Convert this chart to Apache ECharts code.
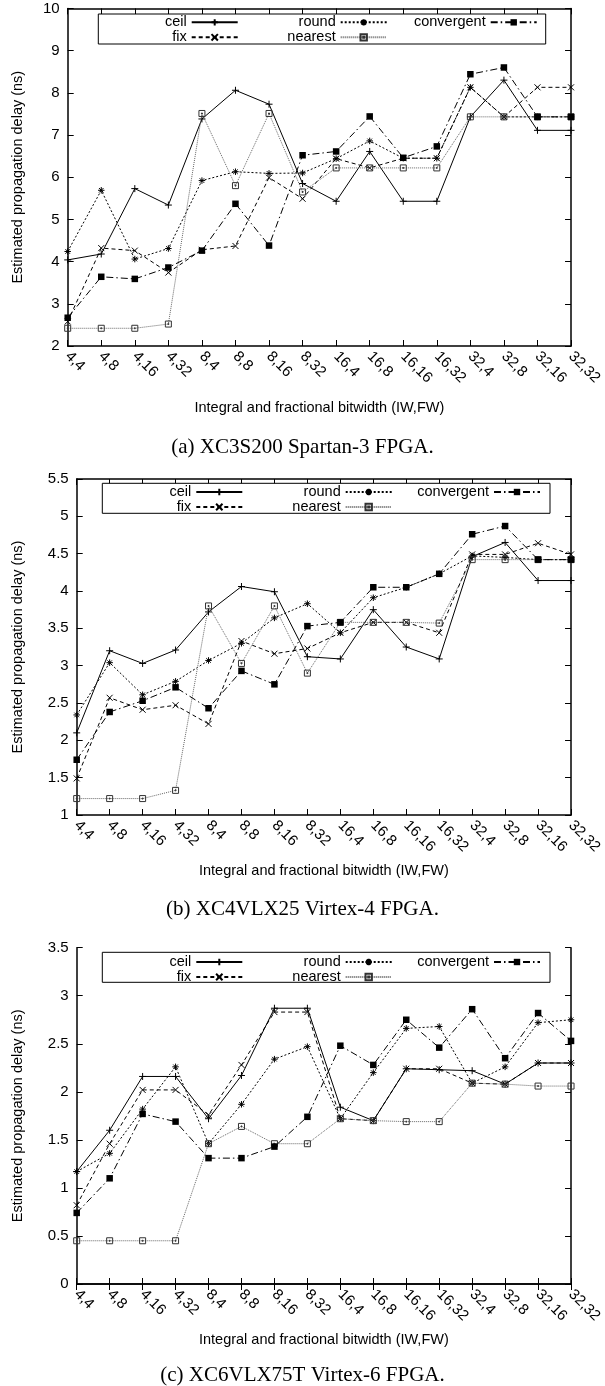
<!DOCTYPE html>
<html><head><meta charset="utf-8">
<script src="https://cdn.jsdelivr.net/npm/echarts@6/dist/echarts.min.js"></script>
<style>html,body{margin:0;padding:0;background:#fff;}#c{width:605px;height:1386px;}</style>
</head><body><div id="c"></div>
<script>
// ---------- data ----------
const categories = ['4,4','4,8','4,16','4,32','8,4','8,8','8,16','8,32','16,4','16,8','16,16','16,32','32,4','32,8','32,16','32,32'];
const seriesNames = ['ceil','fix','round','nearest','convergent'];

// (a) XC3S200 Spartan-3
const ceilA       = [4.04,4.18,5.73,5.34,7.38,8.06,7.73,5.85,5.43,6.61,5.43,5.43,7.43,8.30,7.11,7.11];
const fixA        = [2.58,4.32,4.26,3.74,4.28,4.37,5.99,5.49,6.44,6.22,6.45,6.45,8.13,7.43,8.13,8.13];
const roundA      = [4.24,5.69,4.06,4.31,5.92,6.13,6.09,6.10,6.44,6.86,6.45,6.45,8.13,7.43,7.43,7.43];
const nearestA    = [2.42,2.42,2.42,2.52,7.51,5.80,7.51,5.65,6.22,6.22,6.22,6.22,7.43,7.43,7.43,7.43];
const convergentA = [2.67,3.64,3.59,3.86,4.26,5.37,4.38,6.52,6.61,7.44,6.46,6.73,8.44,8.60,7.43,7.43];

// (b) XC4VLX25 Virtex-4
const ceilB       = [2.10,3.20,3.03,3.21,3.72,4.06,3.99,3.12,3.09,3.75,3.25,3.09,4.46,4.65,4.14,4.14];
const fixB        = [1.49,2.57,2.41,2.47,2.22,3.33,3.16,3.23,3.44,3.58,3.58,3.44,4.49,4.49,4.64,4.49];
const roundB      = [2.34,3.04,2.61,2.79,3.07,3.30,3.64,3.83,3.44,3.91,4.05,4.23,4.47,4.45,4.42,4.42];
const nearestB    = [1.22,1.22,1.22,1.33,3.80,3.03,3.80,2.90,3.58,3.58,3.58,3.57,4.42,4.42,4.42,4.42];
const convergentB = [1.74,2.38,2.53,2.71,2.43,2.93,2.75,3.53,3.58,4.05,4.05,4.23,4.76,4.87,4.42,4.42];

// (c) XC6VLX75T Virtex-6
const ceilC       = [1.17,1.60,2.16,2.16,1.72,2.17,2.87,2.87,1.84,1.70,2.24,2.23,2.22,2.08,2.30,2.30];
const fixC        = [0.82,1.46,2.02,2.02,1.76,2.28,2.83,2.83,1.72,1.70,2.24,2.24,2.09,2.08,2.30,2.30];
const roundC      = [1.17,1.36,1.82,2.26,1.46,1.87,2.34,2.47,1.72,2.20,2.66,2.68,2.09,2.26,2.72,2.75];
const nearestC    = [0.45,0.45,0.45,0.45,1.46,1.64,1.46,1.46,1.72,1.70,1.69,1.69,2.09,2.08,2.06,2.06];
const convergentC = [0.74,1.10,1.77,1.69,1.31,1.31,1.43,1.74,2.48,2.28,2.75,2.46,2.86,2.35,2.82,2.53];

const yScaleA = [2, 10, 1];
const yScaleB = [1, 5.5, 0.5];
const yScaleC = [0, 3.5, 0.5];

const captions = ['(a) XC3S200 Spartan-3 FPGA.', '(b) XC4VLX25 Virtex-4 FPGA.', '(c) XC6VLX75T Virtex-6 FPGA.'];
const xName = 'Integral and fractional bitwidth (IW,FW)';
const yName = 'Estimated propagation delay (ns)';

// ---------- layout & styles ----------
const SANS = 'Liberation Sans, Arial, sans-serif';
const FS = 14.5;
const TFS = 15;
const panels = [
  { values:[ceilA,fixA,roundA,nearestA,convergentA], scale:yScaleA,
    grid:{left:67.7, top:8.4, width:508.8, height:337.6}, yNameGap:42, xNameGap:54, capTop:437,
    legTop:14.85, legRights:[366.3,217.3,67.3], box:[98.3,14,447.4,30] },
  { values:[ceilB,fixB,roundB,nearestB,convergentB], scale:yScaleB,
    grid:{left:76.7, top:479, width:499.3, height:336}, yNameGap:51, xNameGap:48, capTop:899,
    legTop:484.5, legRights:[361.7,212.3,64], box:[102.3,483.3,447.7,30] },
  { values:[ceilC,fixC,roundC,nearestC,convergentC], scale:yScaleC,
    grid:{left:76.7, top:947.7, width:499.3, height:336.3}, yNameGap:51, xNameGap:48, capTop:1365,
    legTop:954.5, legRights:[361.7,212.3,64], box:[102.3,952.3,447.7,30] }
];

const styles = {
  ceil:       { symbol:'path://M0,5H10M5,0V10', size:7,
                line:{color:'#000', width:1, type:'solid'},
                item:{color:'#000', borderColor:'#000', borderWidth:1} },
  fix:        { symbol:'path://M0,0L10,10M10,0L0,10', size:6,
                line:{color:'#000', width:1, type:[4,3]},
                item:{color:'#000', borderColor:'#000', borderWidth:1} },
  round:      { symbol:'path://M0,5H10M5,0V10M1.5,1.5L8.5,8.5M8.5,1.5L1.5,8.5', size:6.5,
                line:{color:'#000', width:1, type:[2,2]},
                item:{color:'#000', borderColor:'#000', borderWidth:1} },
  nearest:    { symbol:'path://M0,0H10V10H0ZM4.2,4.2H5.8V5.8H4.2Z', size:6,
                line:{color:'#666', width:1, type:[1,1]},
                item:{color:'rgba(0,0,0,0)', borderColor:'#333', borderWidth:1} },
  convergent: { symbol:'rect', size:6.5,
                line:{color:'#000', width:1, type:[7,3,1.5,3]},
                item:{color:'#000', borderWidth:0} }
};

const axisLine = {show:true, lineStyle:{color:'#000', width:1.5}};
const tick = {show:true, inside:true, length:6, lineStyle:{color:'#000', width:1}};

const option = {
  animation:false, backgroundColor:'#fff',
  grid:[], xAxis:[], yAxis:[], series:[], legend:[], title:[], graphic:[]
};

panels.forEach((p, i) => {
  option.grid.push(Object.assign({containLabel:false}, p.grid));
  const xi = option.xAxis.length;
  option.xAxis.push({
    type:'category', gridIndex:i, data:categories, boundaryGap:false, position:'bottom',
    axisLine, axisTick:Object.assign({interval:0}, tick), splitLine:{show:false},
    axisLabel:{interval:0, rotate:-45, margin:8, color:'#000', fontSize:TFS, fontFamily:SANS},
    name:xName, nameLocation:'middle', nameGap:p.xNameGap,
    nameTextStyle:{color:'#000', fontSize:FS, fontFamily:SANS}
  });
  option.xAxis.push({
    type:'category', gridIndex:i, data:categories, boundaryGap:false, position:'top',
    axisLine, axisTick:Object.assign({interval:0}, tick), axisLabel:{show:false}, splitLine:{show:false}
  });
  const yi = option.yAxis.length;
  option.yAxis.push({
    type:'value', gridIndex:i, min:p.scale[0], max:p.scale[1], interval:p.scale[2], position:'left',
    axisLine, axisTick:tick, splitLine:{show:false},
    axisLabel:{margin:8, color:'#000', fontSize:TFS, fontFamily:SANS},
    name:yName, nameLocation:'middle', nameRotate:90, nameGap:p.yNameGap,
    nameTextStyle:{color:'#000', fontSize:FS, fontFamily:SANS}
  });
  option.yAxis.push({
    type:'value', gridIndex:i, min:p.scale[0], max:p.scale[1], interval:p.scale[2], position:'right',
    axisLine, axisTick:tick, splitLine:{show:false}, axisLabel:{show:false}
  });
  seriesNames.forEach((n, k) => {
    const s = styles[n];
    option.series.push({
      type:'line', name:n, xAxisIndex:xi, yAxisIndex:yi, data:p.values[k],
      symbol:s.symbol, symbolSize:s.size, symbolKeepAspect:true, showAllSymbol:true,
      lineStyle:s.line, itemStyle:s.item, emphasis:{disabled:true}, z:2+k*0.01
    });
  });
  const cols = [['ceil','fix'],['round','nearest'],['convergent']];
  cols.forEach((names, c) => {
    option.legend.push({
      orient:'vertical', align:'right', right:p.legRights[c], top:p.legTop, padding:0,
      itemGap:0, itemWidth:46, itemHeight:8, selectedMode:false, data:names, z:5,
      textStyle:{color:'#000', fontSize:FS, fontFamily:SANS, lineHeight:14.3}
    });
  });
  option.graphic.push({
    type:'rect', z:4, silent:true,
    shape:{x:p.box[0], y:p.box[1], width:p.box[2], height:p.box[3]},
    style:{fill:'#fff', stroke:'#000', lineWidth:1}
  });
  option.title.push({
    text:captions[i], left:'center', top:p.capTop, padding:0,
    textStyle:{fontFamily:'Liberation Serif, Times New Roman, serif', fontSize:21, fontWeight:'normal', color:'#000'}
  });
});

const chart = echarts.init(document.getElementById('c'), null, {renderer:'canvas'});
chart.setOption(option);
</script>
</body></html>
